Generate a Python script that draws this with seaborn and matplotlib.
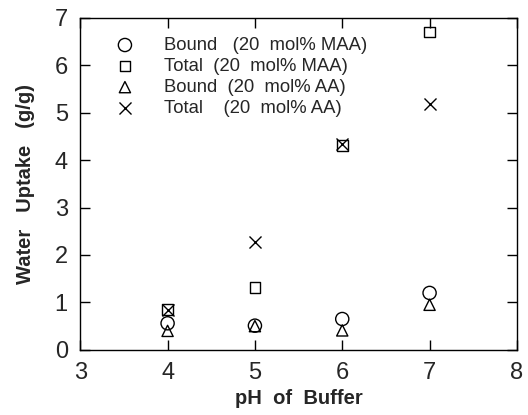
import matplotlib
matplotlib.use("Agg")
import matplotlib.pyplot as plt
import seaborn as sns
import pandas as pd

ph = [4, 5, 6, 7]
bound_maa = [0.56, 0.51, 0.65, 1.20]
total_maa = [0.85, 1.32, 4.31, 6.70]
bound_aa = [0.40, 0.50, 0.41, 0.95]
total_aa = [0.85, 2.27, 4.33, 5.19]

labels = ["Bound   (20  mol% MAA)", "Total  (20  mol% MAA)",
          "Bound  (20  mol% AA)", "Total    (20  mol% AA)"]

sns.set_style("ticks")
plt.rcParams['font.family'] = ['Liberation Sans', 'DejaVu Sans']

fig = plt.figure(figsize=(5.28, 4.15), dpi=100)
ax = fig.add_axes([0.152, 0.157, 0.827, 0.80])

series = [(bound_maa, "o", 90), (total_maa, "s", 60), (bound_aa, "^", 65), (total_aa, "x", 75)]
for (vals, mk, sz), lab in zip(series, labels):
    df = pd.DataFrame({"pH": ph, "uptake": vals})
    if mk == "x":
        sns.scatterplot(data=df, x="pH", y="uptake", marker=mk, s=sz, color="black",
                        linewidth=1.0, ax=ax, label=lab)
    else:
        sns.scatterplot(data=df, x="pH", y="uptake", marker=mk, s=sz, facecolor="none",
                        edgecolor="black", linewidth=1.0, ax=ax, label=lab)

ax.set_xlim(3, 8)
ax.set_ylim(0, 7)
ax.set_xticks([3, 4, 5, 6, 7, 8])
ax.set_yticks(range(0, 8))
ax.tick_params(direction="in", length=7, width=1, top=True, right=True,
               labelsize=17, pad=9, color="black")
for sp in ax.spines.values():
    sp.set_color("black")
    sp.set_linewidth(1)

ax.set_xlabel("pH  of  Buffer", fontsize=14.5, fontweight="bold", labelpad=3)
ax.set_ylabel("Water   Uptake   (g/g)", fontsize=14.5, fontweight="bold", labelpad=14)

ax.legend(loc="upper left", bbox_to_anchor=(0.06, 0.965), frameon=False, fontsize=13.3,
          handletextpad=1.5, labelspacing=0.22, borderaxespad=0, handlelength=1.2)

fig.savefig("out.png", dpi=100)
